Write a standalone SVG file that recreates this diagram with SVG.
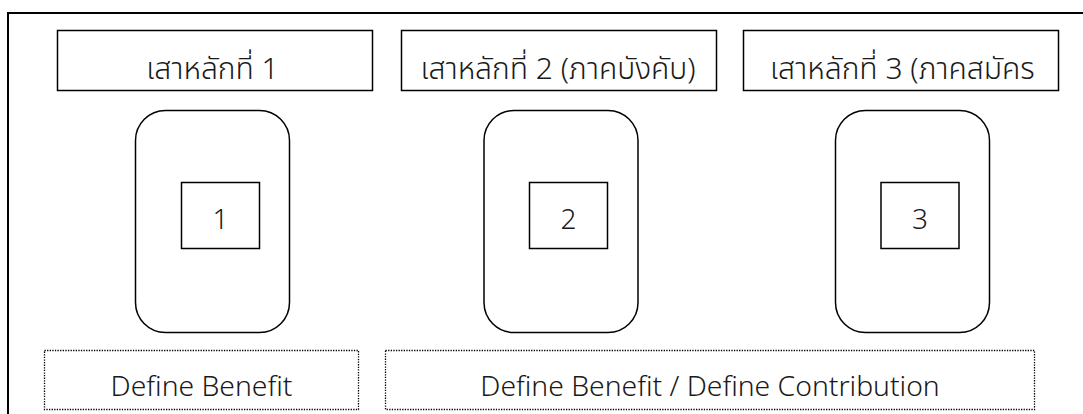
<svg xmlns="http://www.w3.org/2000/svg" width="1083" height="414" viewBox="0 0 1083 414">
<style>
.frame{fill:none;stroke:#000;stroke-width:2}
.box{fill:#fff;stroke:#000;stroke-width:1.5}
.dot{fill:#fff;stroke:#000;stroke-width:1.3;stroke-dasharray:1.3 1.3}
.th{font-family:"Noto Sans Thai","Noto Sans","DejaVu Sans",sans-serif;font-size:30px;fill:#1a1a1a;font-weight:300}
.num{font-family:"Noto Sans","Open Sans",sans-serif;font-size:28px;fill:#1a1a1a;font-weight:300;text-anchor:middle}
.en{font-family:"Noto Sans","Open Sans",sans-serif;font-size:28.3px;fill:#1a1a1a;font-weight:300;text-anchor:middle}
</style>
<rect width="1083" height="414" fill="#fff"/>
<g id="frame"><path class="frame" d="M8,414 V13 H1083"/></g>
<g id="h1"><rect class="box" x="57.5" y="30.5" width="315" height="60"/><text class="th" x="212.5" y="79" text-anchor="middle">เสาหลักที่ 1</text></g>
<g id="h2"><rect class="box" x="401.5" y="30.5" width="315" height="60"/><text class="th" x="558" y="79" text-anchor="middle">เสาหลักที่ 2 (ภาคบังคับ)</text></g>
<g id="h3"><rect class="box" x="743.5" y="30.5" width="315" height="60"/><text class="th" x="770" y="79">เสาหลักที่ 3 (ภาคสมัคร</text></g>
<g id="p1"><rect class="box" x="135.5" y="110.5" width="154" height="222" rx="30"/><rect class="box" x="181.5" y="182.5" width="78" height="66"/><text class="num" x="220.5" y="229">1</text></g>
<g id="p2"><rect class="box" x="484" y="110.5" width="154" height="222" rx="30"/><rect class="box" x="529.5" y="182.5" width="78" height="66"/><text class="num" x="568.5" y="229">2</text></g>
<g id="p3"><rect class="box" x="835.5" y="110.5" width="154" height="222" rx="30"/><rect class="box" x="881" y="182.5" width="78" height="66"/><text class="num" x="920" y="229">3</text></g>
<g id="d1"><rect class="dot" x="44.5" y="350.5" width="314" height="59"/><text class="en" x="201.5" y="396">Define Benefit</text></g>
<g id="d2"><rect class="dot" x="385.5" y="350.5" width="649" height="59"/><text class="en" x="710" y="396">Define Benefit / Define Contribution</text></g>
<g id="connectors"></g>
</svg>
